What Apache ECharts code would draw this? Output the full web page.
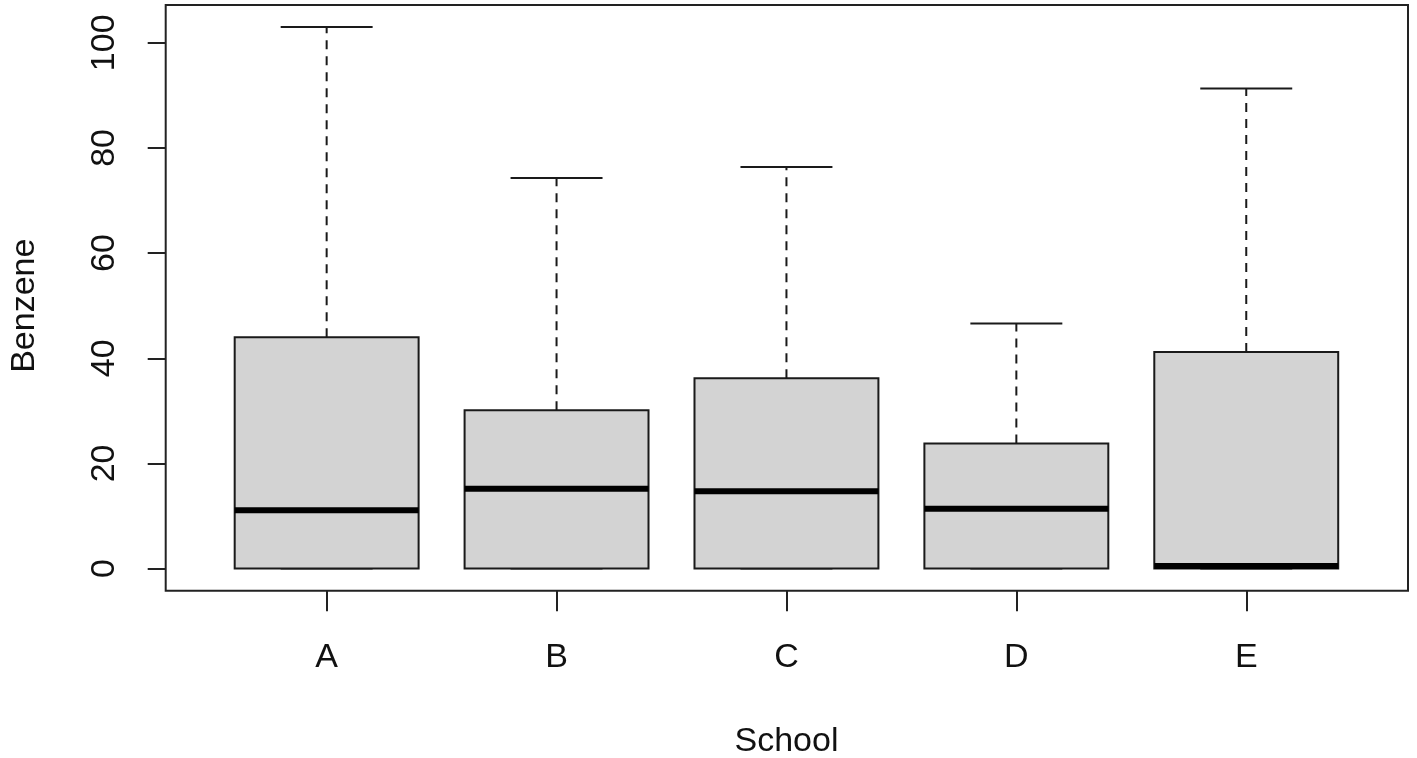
<!DOCTYPE html>
<html>
<head>
<meta charset="utf-8">
<title>Benzene by School</title>
<script src="https://cdn.jsdelivr.net/npm/echarts@6/dist/echarts.min.js"></script>
<style>
  html, body { margin: 0; padding: 0; background: #fff; }
  #BoxPlotDiv { width: 1417px; height: 758px; }
</style>
</head>
<body>
<div id="BoxPlotDiv"></div>
<script>
// categories and five-number summaries
var schools = ['A', 'B', 'C', 'D', 'E'];
var mins    = [0, 0, 0, 0, 0];
var lowers  = [0, 0, 0, 0, 0];
var medians = [11.1, 15.2, 14.7, 11.4, 0.5];
var uppers  = [44.0, 30.1, 36.2, 23.8, 41.2];
var maxs    = [103.0, 74.3, 76.4, 46.6, 91.3];
var yTicks  = { min: 0, max: 100, interval: 20 };

var BoxPlotChart;

$ready(function () {
    InitChart();
    BindBoxPlot();
});

function $ready(fn) {
    if (document.readyState !== 'loading') fn();
    else document.addEventListener('DOMContentLoaded', fn);
}

function InitChart() {
    BoxPlotChart = echarts.init(document.getElementById('BoxPlotDiv'));
}

// one box per category, drawn R-style
function renderBox(params, api) {
    var i = api.value(0);
    var band = api.size([1, 0])[0];
    var half = band * 0.4;
    var staple = band * 0.2;
    var pMin = api.coord([i, api.value(1)]);
    var pLow = api.coord([i, api.value(2)]);
    var pMed = api.coord([i, api.value(3)]);
    var pUp  = api.coord([i, api.value(4)]);
    var pMax = api.coord([i, api.value(5)]);
    var cx = pMed[0];
    var lineCol = '#1a1a1a';
    return {
        type: 'group',
        children: [
            { type: 'line', shape: { x1: cx, y1: pUp[1], x2: cx, y2: pMax[1] },
              style: { stroke: lineCol, lineWidth: 2, lineDash: [9, 7] } },
            { type: 'line', shape: { x1: cx, y1: pLow[1], x2: cx, y2: pMin[1] },
              style: { stroke: lineCol, lineWidth: 2, lineDash: [9, 7] } },
            { type: 'line', shape: { x1: cx - staple, y1: pMax[1], x2: cx + staple, y2: pMax[1] },
              style: { stroke: lineCol, lineWidth: 2 } },
            { type: 'line', shape: { x1: cx - staple, y1: pMin[1], x2: cx + staple, y2: pMin[1] },
              style: { stroke: lineCol, lineWidth: 2 } },
            { type: 'rect', shape: { x: cx - half, y: pUp[1], width: half * 2, height: pLow[1] - pUp[1] },
              style: { fill: '#d3d3d3', stroke: lineCol, lineWidth: 2 } },
            { type: 'line', shape: { x1: cx - half, y1: pMed[1], x2: cx + half, y2: pMed[1] },
              style: { stroke: '#000', lineWidth: 6 } }
        ]
    };
}

function GetBoxPlotOption() {
    var data = [];
    for (var k = 0; k < schools.length; k++) {
        data.push([k, mins[k], lowers[k], medians[k], uppers[k], maxs[k]]);
    }
    var font = { fontFamily: 'Liberation Sans, Arial, sans-serif', fontSize: 34, color: '#111' };
    return {
        backgroundColor: '#fff',
        animation: false,
        grid: [
            // data area: 0..100 on y, one band per school
            { left: 211.7, width: 1149.5, top: 42.8, bottom: 189.4, outerBoundsMode: 'none' },
            // plot frame
            { left: 165.7, right: 9, top: 5, bottom: 167.3, show: true, outerBoundsMode: 'none',
              borderColor: '#222', borderWidth: 2, backgroundColor: 'transparent' }
        ],
        xAxis: [
            {
                type: 'category', gridIndex: 0, data: schools,
                boundaryGap: true, offset: 21.7,
                name: 'School', nameLocation: 'middle', nameGap: 134,
                nameTextStyle: font,
                axisLine: { show: false, onZero: false },
                axisTick: { show: true, alignWithLabel: true, length: 21,
                            lineStyle: { color: '#222', width: 2 } },
                axisLabel: Object.assign({ margin: 50 }, font),
                splitLine: { show: false }
            },
            { type: 'value', gridIndex: 1, show: false }
        ],
        yAxis: [
            {
                type: 'value', gridIndex: 0,
                min: yTicks.min, max: yTicks.max, interval: yTicks.interval,
                offset: 46,
                name: 'Benzene', nameLocation: 'middle', nameGap: 124.5, nameRotate: 90,
                nameTextStyle: font,
                axisLine: { show: false, onZero: false },
                axisTick: { show: true, length: 18, lineStyle: { color: '#222', width: 2 } },
                axisLabel: Object.assign({ margin: 44, rotate: 90 }, font),
                splitLine: { show: false }
            },
            { type: 'value', gridIndex: 1, show: false }
        ],
        series: [
            {
                type: 'custom',
                xAxisIndex: 0, yAxisIndex: 0,
                clip: false,
                renderItem: renderBox,
                encode: { x: 0, y: [1, 2, 3, 4, 5] },
                data: data
            }
        ]
    };
}

function BindBoxPlot() {
    var option1 = GetBoxPlotOption();
    BoxPlotChart.setOption(option1);
}
</script>
</body>
</html>
